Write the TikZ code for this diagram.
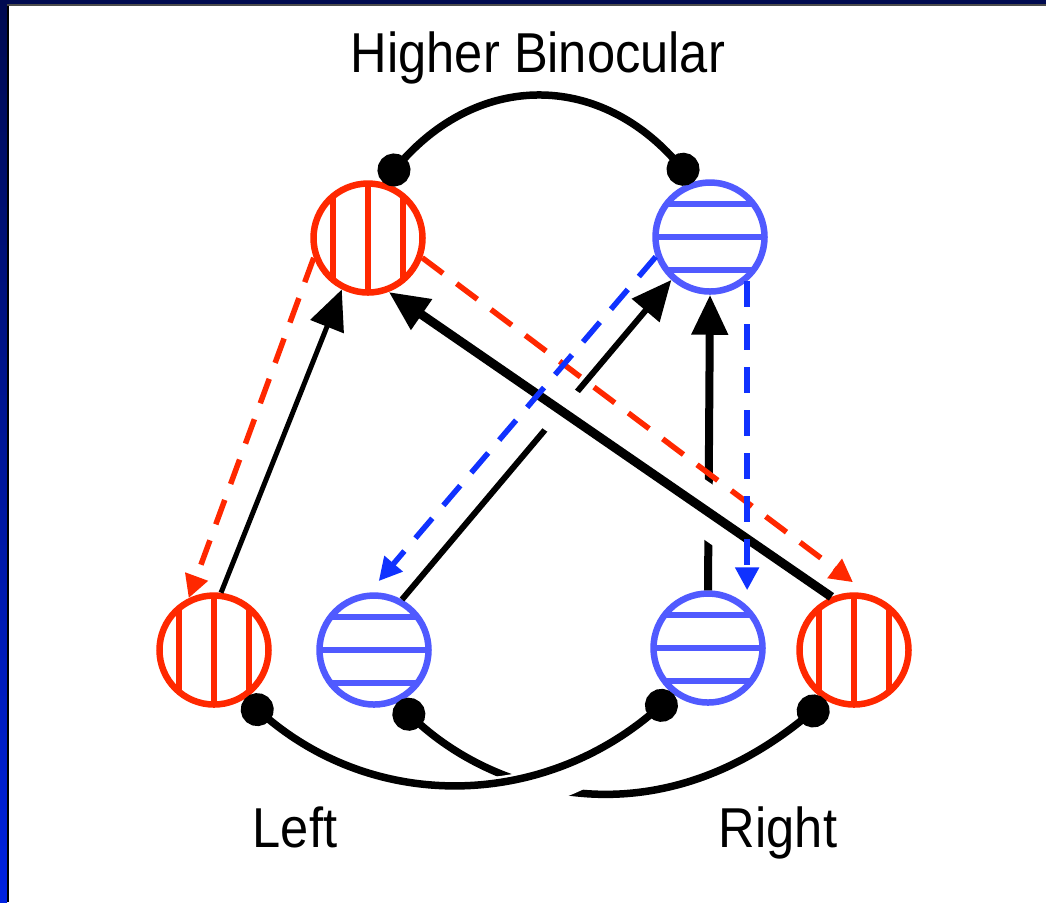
\documentclass[tikz,border=0pt]{standalone}
\usepackage{fontspec}
\usepackage{tikz}
\usetikzlibrary{arrows.meta}
\newfontfamily\labelfont[FakeStretch=0.9]{Liberation Sans}
\definecolor{eyered}{HTML}{FF2800}
\definecolor{eyeblue}{HTML}{505AFF}
\definecolor{dashblue}{HTML}{1032FF}
\definecolor{framenavy}{HTML}{000A50}
\definecolor{frameblue}{HTML}{0022E0}

\begin{document}
\begin{tikzpicture}[
    eyeunit/.style={circle, inner sep=0pt, minimum size=1.09cm, line width=0.065cm},
    vunit/.style={eyeunit, draw=eyered, path picture={
        \foreach \dx in {-0.35,0,0.35}
            \draw[eyered, line width=0.06cm] ([xshift=\dx cm]path picture bounding box.north) -- ([xshift=\dx cm]path picture bounding box.south);}},
    hunit/.style={eyeunit, draw=eyeblue, path picture={
        \foreach \dy in {-0.33,0,0.33}
            \draw[eyeblue, line width=0.06cm] ([yshift=\dy cm]path picture bounding box.west) -- ([yshift=\dy cm]path picture bounding box.east);}},
    excite/.style={-{Triangle[length=0.4cm,width=0.35cm]}, line width=0.05cm},
    inhibit/.style={{Circle[length=0.33cm]}-{Circle[length=0.33cm]}, line width=0.075cm},
    feedback/.style={-{Triangle[length=0.23cm,width=0.23cm]}, line width=0.055cm, dash pattern=on 0.26cm off 0.17cm},
    bridge/.style={preaction={draw=white, -, line width=#1, shorten <=1cm, shorten >=1cm}},
    eyelabel/.style={font=\labelfont\fontsize{16}{19}\selectfont, anchor=base}
]
    % frame
    \useasboundingbox (0,0) rectangle (10.46,-9.02);
    \fill[white] (0,0) rectangle (10.46,-9.02);
    \shade[top color=framenavy, bottom color=frameblue] (0,0) rectangle (0.07,-9.02);
    \fill[black] (0.07,-0.05) rectangle (0.09,-9.02);
    \fill[framenavy] (0,0) rectangle (10.46,-0.04);
    \fill[black!70] (0.07,-0.04) rectangle (10.46,-0.055);

    % labels
    \node[eyelabel] (title) at (5.38,-0.72) {Higher Binocular};
    \node[eyelabel] (lefteye) at (2.95,-8.47) {Left};
    \node[eyelabel] (righteye) at (7.78,-8.47) {Right};

    % units
    \node[vunit] (topV) at (3.68,-2.38) {};
    \node[hunit] (topH) at (7.10,-2.37) {};
    \node[vunit] (leftV) at (2.14,-6.50) {};
    \node[hunit] (leftH) at (3.74,-6.50) {};
    \node[hunit] (rightH) at (7.08,-6.48) {};
    \node[vunit] (rightV) at (8.54,-6.50) {};

    % inhibition
    \draw[inhibit] (topV.75) to[out=48, in=132, looseness=1.2] (topH.106);
    \draw[inhibit] (leftH.-67) to[out=-42, in=-141, out distance=1.4cm, in distance=2.2cm] (rightV.241);
    \draw[inhibit, bridge=0.36cm] (leftV.-58) to[out=-40, in=-140, looseness=1.04] (rightH.234);

    % excitation
    \draw[excite] (leftV.83) -- (topV.243);
    \draw[excite, line width=0.06cm] (leftH.61) -- (topH.228);
    \draw[excite, line width=0.08cm] (rightH.north) -- (topH.south);
    \draw[excite, line width=0.09cm, bridge=0.5cm] (rightV.113) -- (topV.-69);

    % feedback
    \draw[feedback, eyered] (topV.200) -- (leftV.116);
    \draw[feedback, eyered, shorten >=0.2cm] (topV.-20) -- (rightV.75);
    \draw[feedback, dashblue, shorten >=0.15cm] (topH.200) -- (leftH.95);
    \draw[feedback, dashblue] (topH.-50) -- (topH.-50 |- rightH.north);
\end{tikzpicture}
\end{document}
